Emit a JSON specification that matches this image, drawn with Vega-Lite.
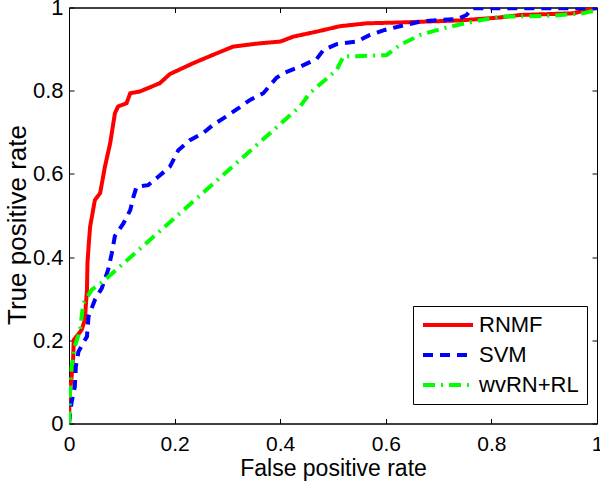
{
  "$schema": "https://vega.github.io/schema/vega-lite/v6.json",
  "width": 528,
  "height": 416,
  "autosize": "none",
  "padding": {"left": 69, "top": 7.5, "right": 3, "bottom": 57.5},
  "background": "white",
  "config": {
    "font": "Liberation Sans",
    "view": {"stroke": "black", "strokeWidth": 1},
    "axis": {"grid": false, "domainColor": "black", "tickColor": "black", "labelColor": "black", "titleColor": "black", "labelFont": "Liberation Sans", "titleFont": "Liberation Sans", "titleFontWeight": "normal"}
  },
  "data": {"values": [
    {"m": "RNMF", "i": 0, "x": 0, "y": 0},
    {"m": "RNMF", "i": 1, "x": 0.001, "y": 0.064},
    {"m": "RNMF", "i": 2, "x": 0.005, "y": 0.112},
    {"m": "RNMF", "i": 3, "x": 0.008, "y": 0.160},
    {"m": "RNMF", "i": 4, "x": 0.009, "y": 0.201},
    {"m": "RNMF", "i": 5, "x": 0.024, "y": 0.225},
    {"m": "RNMF", "i": 6, "x": 0.030, "y": 0.249},
    {"m": "RNMF", "i": 7, "x": 0.034, "y": 0.321},
    {"m": "RNMF", "i": 8, "x": 0.035, "y": 0.386},
    {"m": "RNMF", "i": 9, "x": 0.038, "y": 0.441},
    {"m": "RNMF", "i": 10, "x": 0.040, "y": 0.473},
    {"m": "RNMF", "i": 11, "x": 0.049, "y": 0.537},
    {"m": "RNMF", "i": 12, "x": 0.059, "y": 0.554},
    {"m": "RNMF", "i": 13, "x": 0.068, "y": 0.617},
    {"m": "RNMF", "i": 14, "x": 0.078, "y": 0.674},
    {"m": "RNMF", "i": 15, "x": 0.087, "y": 0.746},
    {"m": "RNMF", "i": 16, "x": 0.093, "y": 0.762},
    {"m": "RNMF", "i": 17, "x": 0.109, "y": 0.770},
    {"m": "RNMF", "i": 18, "x": 0.116, "y": 0.794},
    {"m": "RNMF", "i": 19, "x": 0.134, "y": 0.798},
    {"m": "RNMF", "i": 20, "x": 0.153, "y": 0.808},
    {"m": "RNMF", "i": 21, "x": 0.172, "y": 0.818},
    {"m": "RNMF", "i": 22, "x": 0.191, "y": 0.840},
    {"m": "RNMF", "i": 23, "x": 0.235, "y": 0.866},
    {"m": "RNMF", "i": 24, "x": 0.280, "y": 0.890},
    {"m": "RNMF", "i": 25, "x": 0.311, "y": 0.906},
    {"m": "RNMF", "i": 26, "x": 0.362, "y": 0.914},
    {"m": "RNMF", "i": 27, "x": 0.400, "y": 0.918},
    {"m": "RNMF", "i": 28, "x": 0.425, "y": 0.930},
    {"m": "RNMF", "i": 29, "x": 0.469, "y": 0.942},
    {"m": "RNMF", "i": 30, "x": 0.513, "y": 0.955},
    {"m": "RNMF", "i": 31, "x": 0.564, "y": 0.962},
    {"m": "RNMF", "i": 32, "x": 0.627, "y": 0.964},
    {"m": "RNMF", "i": 33, "x": 0.741, "y": 0.969},
    {"m": "RNMF", "i": 34, "x": 0.816, "y": 0.976},
    {"m": "RNMF", "i": 35, "x": 0.854, "y": 0.982},
    {"m": "RNMF", "i": 36, "x": 0.955, "y": 0.986},
    {"m": "RNMF", "i": 37, "x": 1.0, "y": 1.0},
    {"m": "SVM", "i": 0, "x": 0, "y": 0},
    {"m": "SVM", "i": 1, "x": 0.005, "y": 0.052},
    {"m": "SVM", "i": 2, "x": 0.011, "y": 0.088},
    {"m": "SVM", "i": 3, "x": 0.013, "y": 0.137},
    {"m": "SVM", "i": 4, "x": 0.018, "y": 0.173},
    {"m": "SVM", "i": 5, "x": 0.034, "y": 0.209},
    {"m": "SVM", "i": 6, "x": 0.037, "y": 0.257},
    {"m": "SVM", "i": 7, "x": 0.049, "y": 0.297},
    {"m": "SVM", "i": 8, "x": 0.062, "y": 0.325},
    {"m": "SVM", "i": 9, "x": 0.074, "y": 0.369},
    {"m": "SVM", "i": 10, "x": 0.081, "y": 0.409},
    {"m": "SVM", "i": 11, "x": 0.087, "y": 0.451},
    {"m": "SVM", "i": 12, "x": 0.103, "y": 0.481},
    {"m": "SVM", "i": 13, "x": 0.116, "y": 0.513},
    {"m": "SVM", "i": 14, "x": 0.122, "y": 0.545},
    {"m": "SVM", "i": 15, "x": 0.128, "y": 0.569},
    {"m": "SVM", "i": 16, "x": 0.150, "y": 0.573},
    {"m": "SVM", "i": 17, "x": 0.169, "y": 0.593},
    {"m": "SVM", "i": 18, "x": 0.191, "y": 0.617},
    {"m": "SVM", "i": 19, "x": 0.207, "y": 0.657},
    {"m": "SVM", "i": 20, "x": 0.229, "y": 0.681},
    {"m": "SVM", "i": 21, "x": 0.254, "y": 0.698},
    {"m": "SVM", "i": 22, "x": 0.273, "y": 0.718},
    {"m": "SVM", "i": 23, "x": 0.299, "y": 0.739},
    {"m": "SVM", "i": 24, "x": 0.321, "y": 0.758},
    {"m": "SVM", "i": 25, "x": 0.343, "y": 0.778},
    {"m": "SVM", "i": 26, "x": 0.368, "y": 0.794},
    {"m": "SVM", "i": 27, "x": 0.393, "y": 0.831},
    {"m": "SVM", "i": 28, "x": 0.406, "y": 0.842},
    {"m": "SVM", "i": 29, "x": 0.438, "y": 0.858},
    {"m": "SVM", "i": 30, "x": 0.469, "y": 0.876},
    {"m": "SVM", "i": 31, "x": 0.482, "y": 0.898},
    {"m": "SVM", "i": 32, "x": 0.507, "y": 0.912},
    {"m": "SVM", "i": 33, "x": 0.545, "y": 0.918},
    {"m": "SVM", "i": 34, "x": 0.570, "y": 0.934},
    {"m": "SVM", "i": 35, "x": 0.598, "y": 0.946},
    {"m": "SVM", "i": 36, "x": 0.627, "y": 0.955},
    {"m": "SVM", "i": 37, "x": 0.665, "y": 0.966},
    {"m": "SVM", "i": 38, "x": 0.703, "y": 0.970},
    {"m": "SVM", "i": 39, "x": 0.735, "y": 0.972},
    {"m": "SVM", "i": 40, "x": 0.753, "y": 0.982},
    {"m": "SVM", "i": 41, "x": 0.763, "y": 0.998},
    {"m": "SVM", "i": 42, "x": 1.0, "y": 0.998},
    {"m": "wvRN+RL", "i": 0, "x": 0, "y": 0},
    {"m": "wvRN+RL", "i": 1, "x": 0.001, "y": 0.02},
    {"m": "wvRN+RL", "i": 2, "x": 0.002, "y": 0.081},
    {"m": "wvRN+RL", "i": 3, "x": 0.005, "y": 0.137},
    {"m": "wvRN+RL", "i": 4, "x": 0.011, "y": 0.185},
    {"m": "wvRN+RL", "i": 5, "x": 0.021, "y": 0.225},
    {"m": "wvRN+RL", "i": 6, "x": 0.027, "y": 0.289},
    {"m": "wvRN+RL", "i": 7, "x": 0.043, "y": 0.321},
    {"m": "wvRN+RL", "i": 8, "x": 0.068, "y": 0.345},
    {"m": "wvRN+RL", "i": 9, "x": 0.4375, "y": 0.762},
    {"m": "wvRN+RL", "i": 10, "x": 0.456, "y": 0.794},
    {"m": "wvRN+RL", "i": 11, "x": 0.507, "y": 0.850},
    {"m": "wvRN+RL", "i": 12, "x": 0.520, "y": 0.883},
    {"m": "wvRN+RL", "i": 13, "x": 0.545, "y": 0.883},
    {"m": "wvRN+RL", "i": 14, "x": 0.602, "y": 0.886},
    {"m": "wvRN+RL", "i": 15, "x": 0.627, "y": 0.910},
    {"m": "wvRN+RL", "i": 16, "x": 0.665, "y": 0.934},
    {"m": "wvRN+RL", "i": 17, "x": 0.709, "y": 0.950},
    {"m": "wvRN+RL", "i": 18, "x": 0.753, "y": 0.963},
    {"m": "wvRN+RL", "i": 19, "x": 0.816, "y": 0.978},
    {"m": "wvRN+RL", "i": 20, "x": 0.911, "y": 0.980},
    {"m": "wvRN+RL", "i": 21, "x": 0.973, "y": 0.986},
    {"m": "wvRN+RL", "i": 22, "x": 1.0, "y": 0.994}
  ]},
  "layer": [
    {
      "mark": {"type": "line", "strokeWidth": 4, "clip": true},
      "encoding": {
        "x": {"field": "x", "type": "quantitative", "scale": {"domain": [0, 1], "nice": false, "zero": false},
              "axis": {"orient": "bottom", "title": "False positive rate", "values": [0, 0.2, 0.4, 0.6, 0.8, 1], "format": "~g",
                       "tickSize": -5, "labelPadding": 15, "labelFontSize": 21, "titleFontSize": 23, "titlePadding": 3, "labelFlush": false}},
        "y": {"field": "y", "type": "quantitative", "scale": {"domain": [0, 1], "nice": false, "zero": false},
              "axis": {"orient": "left", "title": "True positive rate", "values": [0, 0.2, 0.4, 0.6, 0.8, 1], "format": "~g",
                       "tickSize": -5, "labelPadding": 11, "labelFontSize": 22, "titleFontSize": 26, "titlePadding": 2, "titleY": 217, "labelFlush": false}},
        "color": {"field": "m", "type": "nominal",
                  "scale": {"domain": ["RNMF", "SVM", "wvRN+RL"], "range": ["#ff0000", "#0000ff", "#00ff00"]},
                  "legend": {"title": null, "orient": "none", "legendX": 344, "legendY": 298.5, "strokeColor": "black", "fillColor": "white",
                             "padding": 8, "rowPadding": 8, "clipHeight": 22, "labelFontSize": 22, "labelColor": "black", "labelOffset": 4,
                             "symbolType": "stroke", "symbolSize": 2500, "symbolStrokeWidth": 4}},
        "strokeDash": {"field": "m", "type": "nominal",
                       "scale": {"domain": ["RNMF", "SVM", "wvRN+RL"], "range": [[1, 0], [10, 7], [12, 6, 2, 6]]},
                       "legend": null},
        "order": {"field": "i", "type": "quantitative"}
      }
    },
    {
      "mark": {"type": "point", "opacity": 0},
      "encoding": {
        "x": {"field": "x", "type": "quantitative",
              "axis": {"orient": "top", "title": null, "labels": false, "values": [0, 0.2, 0.4, 0.6, 0.8, 1], "tickSize": -5}},
        "y": {"field": "y", "type": "quantitative",
              "axis": {"orient": "right", "title": null, "labels": false, "values": [0, 0.2, 0.4, 0.6, 0.8, 1], "tickSize": -5}}
      }
    }
  ],
  "resolve": {"axis": {"x": "independent", "y": "independent"}}
}
